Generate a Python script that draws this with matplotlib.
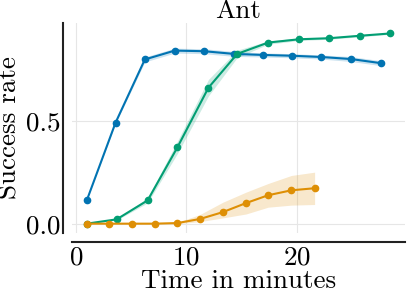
import matplotlib
matplotlib.use("Agg")
import matplotlib.pyplot as plt
import numpy as np

plt.rcParams["font.family"] = "serif"
plt.rcParams["font.serif"] = ["cmr10"]
plt.rcParams["mathtext.fontset"] = "cm"
plt.rcParams["axes.formatter.use_mathtext"] = True
plt.rcParams["axes.unicode_minus"] = False

# blue run
t_blue = [1.0, 3.6, 6.25, 8.95, 11.6, 14.3, 16.9, 19.6, 22.2, 24.9, 27.6]
y_blue = [0.113, 0.49, 0.797, 0.84, 0.837, 0.824, 0.819, 0.815, 0.809, 0.799, 0.779]
sd_blue = [0.0, 0.004, 0.012, 0.012, 0.012, 0.012, 0.01, 0.01, 0.01, 0.012, 0.012]

# green run
t_green = [1.0, 3.7, 6.5, 9.2, 12.0, 14.6, 17.4, 20.2, 22.9, 25.7, 28.4]
y_green = [0.0, 0.021, 0.113, 0.371, 0.66, 0.824, 0.879, 0.895, 0.9, 0.912, 0.923]
sd_green = [0.0, 0.004, 0.012, 0.03, 0.04, 0.018, 0.008, 0.006, 0.005, 0.005, 0.004]

# orange run
t_orange = [1.0, 3.05, 5.1, 7.15, 9.2, 11.25, 13.3, 15.4, 17.4, 19.5, 21.6]
y_orange = [0.0, 0.0, 0.0, 0.0, 0.003, 0.023, 0.056, 0.1, 0.138, 0.162, 0.172]
lo_orange = [0.0, 0.0, 0.0, 0.0, 0.0, 0.01, 0.028, 0.047, 0.08, 0.09, 0.093]
hi_orange = [0.0, 0.0, 0.0, 0.0, 0.006, 0.045, 0.104, 0.153, 0.195, 0.234, 0.25]

blue = "#0173b2"
green = "#029e73"
orange = "#de8f05"

fig = plt.figure(figsize=(4.07, 2.89), dpi=100)
ax = fig.add_axes([0.176, 0.193, 0.819, 0.727])

ax.grid(True, color="#e6e6e6", linewidth=0.8)
ax.set_axisbelow(True)

for t, y, sd, c in [(t_blue, y_blue, sd_blue, blue), (t_green, y_green, sd_green, green)]:
    y = np.array(y)
    sd = np.array(sd)
    ax.fill_between(t, y - sd, y + sd, color=c, alpha=0.2, linewidth=0)
    ax.plot(t, y, color=c, lw=1.5, marker="o", ms=4.5)

ax.fill_between(t_orange, lo_orange, hi_orange, color=orange, alpha=0.2, linewidth=0)
ax.plot(t_orange, y_orange, color=orange, lw=1.5, marker="o", ms=4.5)

ax.set_xticks([0, 10, 20])
ax.set_yticks([0.0, 0.5])
ax.set_yticklabels(["0.0", "0.5"])
ax.tick_params(length=0, labelsize=19.5)
ax.tick_params(axis="y", pad=2)
ax.tick_params(axis="x", pad=3)

ax.set_title("Ant", fontsize=19.5, pad=2)
ax.set_xlabel("Time in minutes", fontsize=19.5, labelpad=0)
ax.set_ylabel("Success rate", fontsize=19.5, va="baseline")
ax.yaxis.set_label_coords(17 / 407, (289 - 128) / 289, transform=fig.transFigure)

for s in ["top", "right"]:
    ax.spines[s].set_visible(False)
for s in ["left", "bottom"]:
    ax.spines[s].set_position(("outward", 6))
    ax.spines[s].set_linewidth(1.5)
    ax.spines[s].set_color("#222222")

fig.savefig("out.png", dpi=100)
